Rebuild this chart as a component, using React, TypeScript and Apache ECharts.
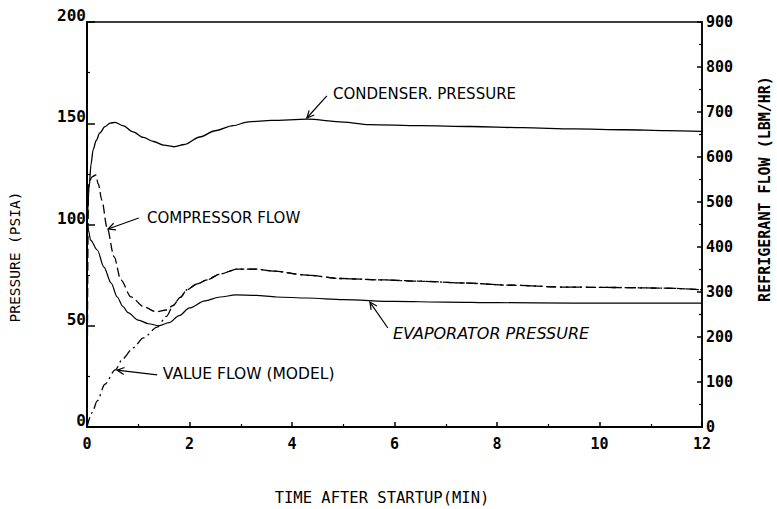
import React, { useEffect, useRef } from "react";
import * as echarts from "echarts";

// ---- data (time in minutes) ----
const condTime = [0, 0.04, 0.08, 0.12, 0.18, 0.25, 0.35, 0.45, 0.55, 0.7, 0.9, 1.1, 1.3, 1.5, 1.7, 1.9, 2.2, 2.5, 2.85, 3.15, 3.6, 4.3, 5.0, 5.5, 6.5, 7.5, 8.5, 9.5, 10.5, 11.3, 12];
const condenserPressure = [96, 118, 130, 137, 141.5, 145.2, 148.3, 150.1, 150.4, 148.8, 145.7, 143.0, 141.0, 139.2, 138.4, 139.5, 143.2, 146.3, 148.8, 150.7, 151.4, 152, 150.6, 149.3, 148.8, 148.4, 147.8, 147.2, 146.8, 146.4, 146];

const evapTime = [0, 0.03, 0.07, 0.2, 0.33, 0.47, 0.59, 0.7, 0.8, 1.0, 1.2, 1.4, 1.6, 1.8, 2.0, 2.3, 2.6, 2.9, 3.3, 3.7, 4.3, 5.0, 6.0, 7.0, 8.0, 9.5, 11, 12];
const evaporatorPressure = [100, 97, 92.3, 87.4, 79, 71.1, 64.2, 59.5, 56.5, 52.8, 51, 50, 51.5, 55.0, 58.8, 62.3, 64.2, 65.2, 65, 64.2, 63.7, 62.9, 62.0, 61.7, 61.4, 61.2, 61.2, 61.2];

const compTime = [0, 0.03, 0.1, 0.17, 0.22, 0.29, 0.39, 0.53, 0.66, 0.86, 1.11, 1.35, 1.55, 1.68, 1.82, 1.95, 2.15, 2.34, 2.6, 2.93, 3.3, 3.63, 4.29, 4.94, 5.72, 6.5, 7.34, 8.3, 9.29, 10.3, 11.24, 12];
const compressorFlow = [0, 540, 556, 560, 540, 504, 444, 378, 327, 289, 267, 256, 260, 270, 288, 305, 318, 327, 340, 351, 351, 346.5, 337.5, 330, 327, 324, 320, 315, 311, 310, 308.7, 305];

const valveTime = [0, 0.1, 0.2, 0.35, 0.55, 0.7, 0.9, 1.1, 1.37, 1.55, 1.68, 1.82, 1.95, 2.15, 2.34, 2.6, 2.93, 3.3, 3.63, 4.29, 4.94, 5.72, 6.5, 7.34, 8.3, 9.29, 10.3, 11.24, 12];
const valveFlow = [0, 32, 58, 95, 127, 152, 176, 198, 222, 246, 270, 288, 305, 318, 327, 340, 351, 351, 346.5, 337.5, 330, 327, 324, 320, 315, 311, 310, 308.7, 305];

// annotations in data coordinates (time, psia)
const annotations = [
  { text: "CONDENSER. PRESSURE", textAt: [4.8, 164.4], tail: [4.68, 163.5], head: [4.29, 152.6], size: 15, italic: false },
  { text: "COMPRESSOR FLOW", textAt: [1.17, 103.2], tail: [1.01, 103.2], head: [0.41, 97.8], size: 15, italic: false },
  { text: "VALUE FLOW (MODEL)", textAt: [1.48, 26.2], tail: [1.37, 25.7], head: [0.585, 28.1], size: 15.5, italic: false },
  { text: "EVAPORATOR PRESSURE", textAt: [5.97, 46.4], tail: [5.87, 48.9], head: [5.52, 61.7], size: 16, italic: true },
];

const pairs = (xs: number[], ys: number[]) => xs.map((x, i) => [x, ys[i]]);

const MONO = "'DejaVu Sans Mono', monospace";

export default function App() {
  const ref = useRef<HTMLDivElement>(null);
  useEffect(() => {
    const chart = echarts.init(ref.current!, null, { renderer: "svg" });
    const line = (type: any, w = 1.2) => ({ color: "#000", width: w, type });
    const option: any = {
      animation: false,
      backgroundColor: "#fff",
      grid: { left: 87, right: 75, top: 22, bottom: 82, show: true, borderColor: "#000", borderWidth: 1.5, backgroundColor: "transparent" },
      xAxis: {
        type: "value", min: 0, max: 12, interval: 2,
        axisLine: { lineStyle: { color: "#000", width: 2 } },
        axisTick: { inside: true, length: 5, lineStyle: { color: "#000", width: 1.5 } },
        minorTick: { show: true, splitNumber: 2, length: 3, lineStyle: { color: "#000", width: 1.2 } },
        splitLine: { show: false },
        axisLabel: { color: "#000", fontFamily: MONO, fontWeight: "bold", fontSize: 15, margin: 9 },
      },
      yAxis: [
        {
          type: "value", min: 0, max: 200, interval: 50, position: "left",
          axisLine: { show: true, lineStyle: { color: "#000", width: 2 } },
          axisTick: { show: true, inside: true, length: 8, lineStyle: { color: "#000", width: 1.5 } },
          minorTick: { show: true, splitNumber: 2, length: 3, lineStyle: { color: "#000", width: 1.2 } },
          splitLine: { show: false },
          axisLabel: { color: "#000", fontFamily: MONO, fontWeight: "bold", fontSize: 16, margin: 1, verticalAlign: "bottom", lineHeight: 13 },
        },
        {
          type: "value", min: 0, max: 900, interval: 100, position: "right",
          axisLine: { show: true, lineStyle: { color: "#000", width: 1.5 } },
          axisTick: { show: true, inside: true, length: 5, lineStyle: { color: "#000", width: 1.5 } },
          minorTick: { show: true, splitNumber: 2, length: 3, lineStyle: { color: "#000", width: 1.2 } },
          splitLine: { show: false },
          axisLabel: { color: "#000", fontFamily: MONO, fontWeight: "bold", fontSize: 15, margin: 4, verticalAlign: "middle" },
        },
      ],
      series: [
        { name: "Condenser pressure", type: "line", yAxisIndex: 0, data: pairs(condTime, condenserPressure), showSymbol: false, smooth: 0.3, smoothMonotone: "x", lineStyle: line("solid", 1.3) },
        { name: "Evaporator pressure", type: "line", yAxisIndex: 0, data: pairs(evapTime, evaporatorPressure), showSymbol: false, smooth: 0.3, smoothMonotone: "x", lineStyle: line("solid", 1.2) },
        { name: "Compressor flow", type: "line", yAxisIndex: 1, data: pairs(compTime, compressorFlow), showSymbol: false, smooth: 0.3, smoothMonotone: "x", lineStyle: line([9, 4], 1.3) },
        { name: "Valve flow (model)", type: "line", yAxisIndex: 1, data: pairs(valveTime, valveFlow), showSymbol: false, smooth: 0.3, smoothMonotone: "x", lineStyle: line([10, 4, 2, 4], 1.3) },
      ],
    };
    chart.setOption(option);

    const px = (p: number[]) => chart.convertToPixel({ xAxisIndex: 0, yAxisIndex: 0 } as any, p) as number[];
    const graphics: any[] = [];
    annotations.forEach((a) => {
      const t = px(a.textAt), tl = px(a.tail), hd = px(a.head);
      graphics.push({
        type: "text", x: t[0], y: t[1],
        style: { text: a.text, fill: "#000", fontFamily: "'DejaVu Sans', sans-serif", fontSize: a.size, fontStyle: a.italic ? "italic" : "normal", align: "left", verticalAlign: "middle" },
      });
      graphics.push({ type: "line", shape: { x1: tl[0], y1: tl[1], x2: hd[0], y2: hd[1] }, style: { stroke: "#000", lineWidth: 1.2 } });
      const dx = tl[0] - hd[0], dy = tl[1] - hd[1];
      const len = Math.hypot(dx, dy) || 1;
      const ux = dx / len, uy = dy / len;
      const L = 8, ang = 0.45;
      const r = (s: number) => [hd[0] + L * (ux * Math.cos(s) - uy * Math.sin(s)), hd[1] + L * (ux * Math.sin(s) + uy * Math.cos(s))];
      graphics.push({ type: "polyline", shape: { points: [r(ang), hd, r(-ang)] }, style: { stroke: "#000", fill: null, lineWidth: 1.2 } });
    });
    graphics.push({
      type: "text", x: 15, y: 257, rotation: Math.PI / 2,
      style: { text: "PRESSURE (PSIA)", fill: "#000", fontFamily: MONO, fontSize: 14.5, align: "center", verticalAlign: "middle" },
    });
    graphics.push({
      type: "text", x: 765, y: 189, rotation: Math.PI / 2,
      style: { text: "REFRIGERANT FLOW (LBM/HR)", fill: "#000", fontFamily: MONO, fontWeight: "bold", fontSize: 15, align: "center", verticalAlign: "middle" },
    });
    graphics.push({
      type: "text", x: 382, y: 498,
      style: { text: "TIME AFTER STARTUP(MIN)", fill: "#000", fontFamily: MONO, fontSize: 15.5, align: "center", verticalAlign: "middle" },
    });
    chart.setOption({ graphic: graphics });
    return () => chart.dispose();
  }, []);
  return <div ref={ref} style={{ position: "absolute", left: 0, top: 0, width: 777, height: 509, background: "#fff" }} />;
}
